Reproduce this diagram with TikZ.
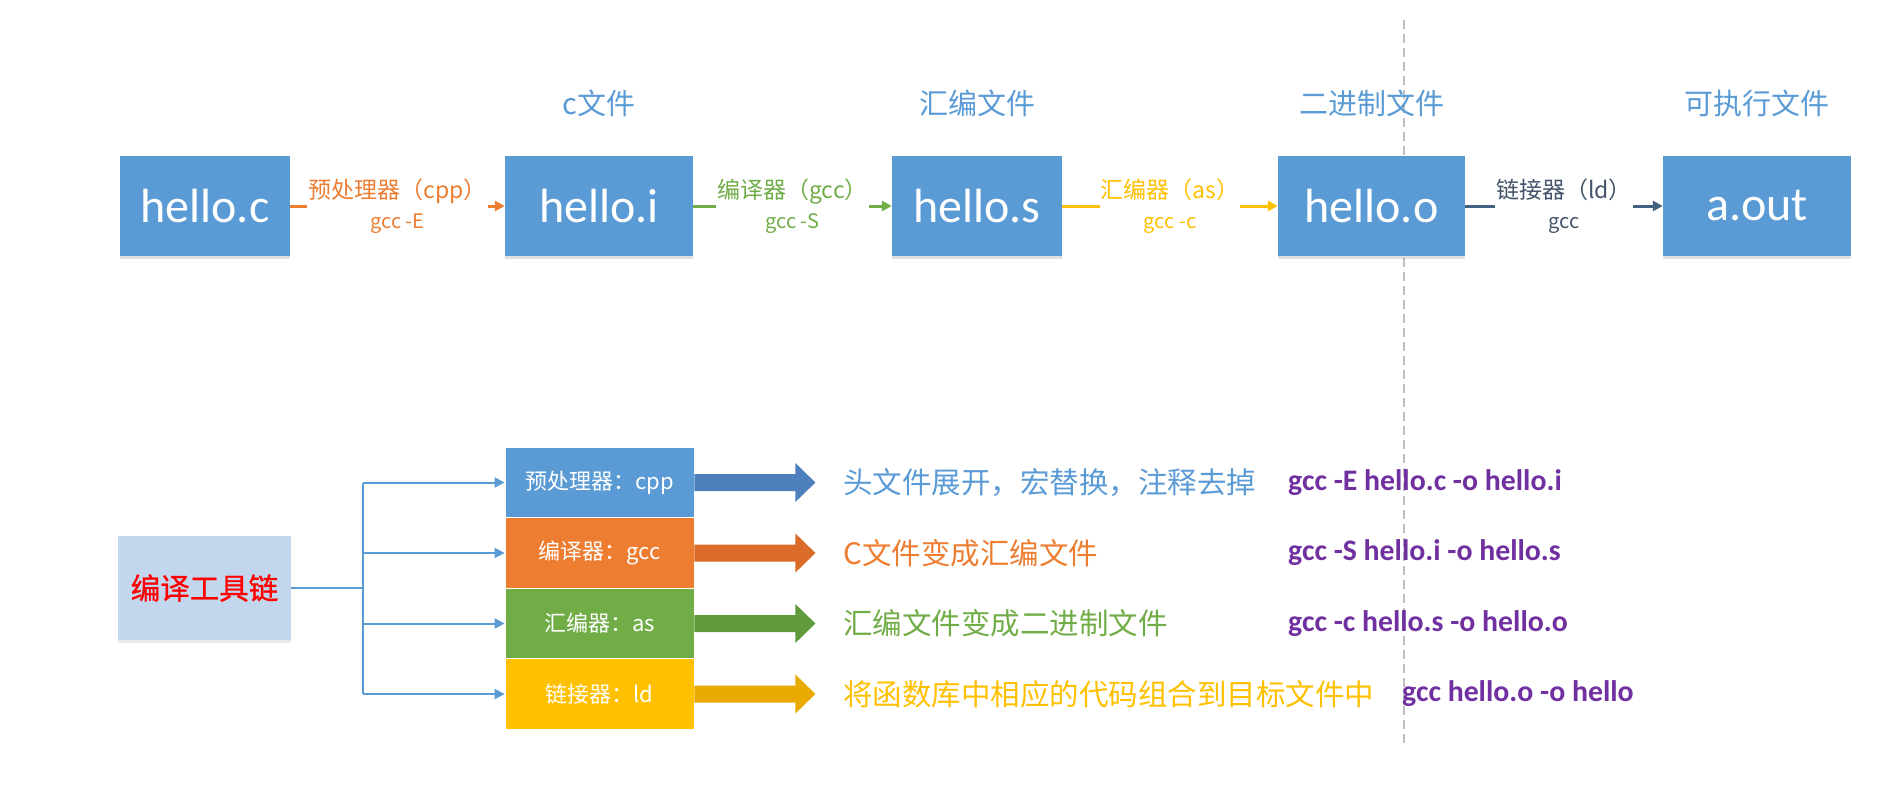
\documentclass[tikz,border=0pt]{standalone}
\usepackage{fontspec}
\setmainfont{Carlito}
\newfontfamily\cjk{Noto Sans CJK SC}
\newfontfamily\cjkbold[FakeBold=0.8]{Noto Sans CJK SC}
\usetikzlibrary{arrows.meta,shadows}
\definecolor{boxblue}{HTML}{5B9BD5}
\definecolor{corange}{HTML}{ED7D31}
\definecolor{cgreen}{HTML}{70AD47}
\definecolor{cgold}{HTML}{FFC000}
\definecolor{cslate}{HTML}{44546A}
\definecolor{cslateline}{HTML}{42607F}
\definecolor{cpurple}{HTML}{7030A0}
\definecolor{lightbox}{HTML}{C2D6EE}
\definecolor{ablue}{HTML}{4E80BD}
\definecolor{aorange}{HTML}{DA6B28}
\definecolor{agreen}{HTML}{5F9A3B}
\definecolor{agold}{HTML}{E8AA00}
\definecolor{sepgray}{HTML}{BFBFBF}
\newcommand{\labbig}[1]{{\fontsize{23}{30}\selectfont #1}}
\begin{document}
\begin{tikzpicture}[x=1pt,y=-1pt,
  filebox/.style={fill=boxblue, text=white, font=\fontsize{48}{56}\selectfont,
    minimum height=100pt, inner sep=0pt,
    drop shadow={shadow xshift=0pt, shadow yshift=-3pt, opacity=0.12, fill=black}},
  title/.style={text=boxblue, font=\cjk\fontsize{29}{34}\selectfont, inner sep=0pt},
  lab/.style={fill=white, inner sep=1pt, align=center, font=\cjk\fontsize{20}{30}\selectfont},
  conn/.style={line width=3pt, -{Triangle[length=10pt,width=10pt]}},
  tree/.style={draw=boxblue, line width=2pt},
  treearr/.style={tree, -{Triangle[length=10pt,width=10pt]}},
  stackbox/.style={minimum width=189pt, minimum height=70.5pt, inner sep=0pt, draw=white, line width=0.8pt,
    text=white, font=\cjk\fontsize{22}{26}\selectfont},
  desc/.style={anchor=west, inner sep=0pt, font=\cjk\fontsize{29.5}{34}\selectfont},
  cmd/.style={anchor=west, inner sep=0pt, text=cpurple, font=\bfseries\fontsize{29.8}{34}\selectfont}
]
\useasboundingbox (0,0) rectangle (1879,800);

% separator
\coordinate (septop) at (1404,20);
\coordinate (sepbot) at (1404,745);
\draw[sepgray, line width=1.5pt, dash pattern=on 9pt off 5pt] (septop) -- (sepbot);

% top row files
\node[filebox, minimum width=170pt] (fc) at (205,206) {hello.c};
\node[filebox, minimum width=188pt] (fi) at (599,206) {hello.i};
\node[filebox, minimum width=170pt] (fs) at (977,206) {hello.s};
\node[filebox, minimum width=187pt] (fo) at (1371.5,206) {hello.o};
\node[filebox, minimum width=188pt] (fa) at (1757,206) {a.out};

% titles
\node[title] (t1) at (599,103) {c文件};
\node[title] (t2) at (977,103) {汇编文件};
\node[title] (t3) at (1372,103) {二进制文件};
\node[title] (t4) at (1757,103) {可执行文件};

% connectors
\draw[conn, draw=corange, color=corange] (fc) -- node[lab, text=corange]{\labbig{预处理器（cpp）}\\gcc -E} (fi);
\draw[conn, draw=cgreen, color=cgreen] (fi) -- node[lab, text=cgreen]{\labbig{编译器（gcc）}\\gcc -S} (fs);
\draw[conn, draw=cgold, color=cgold] (fs) -- node[lab, text=cgold]{\labbig{汇编器（as）}\\gcc -c} (fo);
\draw[conn, draw=cslateline, color=cslateline] (fo) -- node[lab, text=cslate]{\labbig{链接器（ld）}\\gcc} (fa);

% bottom: tool chain
\node[fill=lightbox, minimum width=173pt, minimum height=104pt, inner sep=0pt,
  text=red, font=\cjkbold\fontsize{29.5}{34}\selectfont,
  drop shadow={shadow xshift=0pt, shadow yshift=-3pt, opacity=0.08, fill=black}] (tool) at (204.5,588) {编译工具链};

\node[stackbox, fill=boxblue] (s1) at (599.5,482.5) {预处理器：cpp};
\node[stackbox, fill=corange] (s2) at (599.5,553) {编译器：gcc};
\node[stackbox, fill=cgreen] (s3) at (599.5,623.5) {汇编器：as};
\node[stackbox, fill=cgold] (s4) at (599.5,694) {链接器：ld};

\coordinate (trunk) at (363,588);
\draw[tree] (tool.east) -- (trunk);
\draw[tree] (trunk |- s1.west) -- (trunk |- s4.west);
\foreach \k in {1,2,3,4}{
  \draw[treearr] (trunk |- s\k.west) -- (s\k.west);
}

% big arrows
\foreach \k/\col in {1/ablue,2/aorange,3/agreen,4/agold}{
  \fill[\col] (s\k.east) ++(0,-8.5) -- ++(101,0) -- ++(0,-11) -- ++(20,19.5)
     -- ++(-20,19.5) -- ++(0,-11) -- ++(-101,0) -- cycle;
}

% descriptions
\node[desc, text=boxblue] (d1) at (843,482.5) {头文件展开，宏替换，注释去掉};
\node[desc, text=corange] (d2) at (843,553) {C文件变成汇编文件};
\node[desc, text=cgreen] (d3) at (843,623.5) {汇编文件变成二进制文件};
\node[desc, text=cgold] (d4) at (843,694) {将函数库中相应的代码组合到目标文件中};

% commands
\node[cmd] (k1) at (1288,482.5) {gcc -E hello.c -o hello.i};
\node[cmd] (k2) at (1288,553) {gcc -S hello.i -o hello.s};
\node[cmd] (k3) at (1288,623.5) {gcc -c hello.s -o hello.o};
\node[cmd] (k4) at (1402,694) {gcc hello.o -o hello};
\end{tikzpicture}
\end{document}
